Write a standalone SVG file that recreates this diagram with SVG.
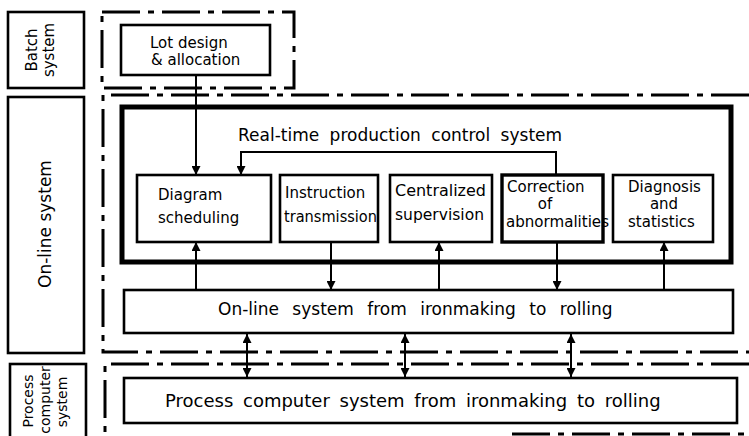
<svg xmlns="http://www.w3.org/2000/svg" width="749" height="436" viewBox="0 0 749 436">
  <defs>
    <marker id="arr" viewBox="0 0 10 10" refX="10" refY="5" markerWidth="9" markerHeight="9" markerUnits="userSpaceOnUse" orient="auto-start-reverse">
      <path d="M0,0 L10,5 L0,10 Z" fill="#000"/>
    </marker>
    <style>
      .box { fill: #fff; stroke: #000; stroke-width: 2.6; }
      .thick { fill: none; stroke: #000; stroke-width: 5; }
      .dd { fill: none; stroke: #000; stroke-width: 3; stroke-dasharray: 38 8 6 8; }
      .ln { fill: none; stroke: #000; stroke-width: 2; }
      text { font-family: "DejaVu Sans", "Liberation Sans", sans-serif; font-size: 15px; fill: #000; }
      .big { font-size: 17px; }
      .mid { text-anchor: middle; }
    </style>
  </defs>

  <rect width="749" height="436" fill="#fff"/>

  <!-- system regions (dash-dot outlines) -->
  <g id="regions">
    <rect class="dd" x="102" y="12" width="192" height="76"/>
    <path class="dd" d="M749,95 H103 V352 H749"/>
    <path class="dd" d="M749,364 H105 V436"/>
    <path class="dd" d="M512,434 H749"/>
  </g>

  <!-- side labels -->
  <g id="batch-label">
    <rect class="box" x="8" y="12" width="76" height="76"/>
    <text class="mid" transform="translate(37,50) rotate(-90)">Batch</text>
    <text class="mid" transform="translate(54,50) rotate(-90)">system</text>
  </g>
  <g id="online-label">
    <rect class="box" x="8" y="97" width="76" height="256"/>
    <text class="mid big" transform="translate(51,224) rotate(-90)">On-line system</text>
  </g>
  <g id="process-label">
    <rect class="box" x="10" y="364" width="76" height="80"/>
    <text class="mid" style="font-size:14px" transform="translate(33,401) rotate(-90)">Process</text>
    <text class="mid" style="font-size:14px" transform="translate(50,400) rotate(-90)">computer</text>
    <text class="mid" style="font-size:14px" transform="translate(67,402) rotate(-90)">system</text>
  </g>

  <!-- batch node -->
  <g id="lot-design">
    <rect class="box" x="121" y="25" width="149" height="50"/>
    <text x="150" y="48">Lot design</text>
    <text x="151" y="65">&amp; allocation</text>
  </g>

  <!-- real-time production control system frame -->
  <g id="realtime">
    <rect class="thick" x="122" y="107" width="609" height="155"/>
    <text class="big" x="238" y="141" style="word-spacing:5px">Real-time production control system</text>
  </g>

  <g id="diagram-scheduling">
    <rect class="box" x="137" y="175" width="134" height="67"/>
    <text x="158" y="200">Diagram</text>
    <text x="158" y="223">scheduling</text>
  </g>
  <g id="instruction-transmission">
    <rect class="box" x="280" y="175" width="98" height="67"/>
    <text x="285" y="198">Instruction</text>
    <text x="284" y="222" textLength="93" lengthAdjust="spacingAndGlyphs">transmission</text>
  </g>
  <g id="centralized-supervision">
    <rect class="box" x="390" y="175" width="102" height="67"/>
    <text x="395" y="196" textLength="91" lengthAdjust="spacingAndGlyphs">Centralized</text>
    <text x="395" y="220" textLength="89" lengthAdjust="spacingAndGlyphs">supervision</text>
  </g>
  <g id="correction">
    <rect class="box" x="502" y="175" width="101" height="67" style="stroke-width:3.4"/>
    <text x="507" y="192">Correction</text>
    <text class="mid" x="545" y="209">of</text>
    <text x="506" y="227" textLength="103" lengthAdjust="spacingAndGlyphs">abnormalities</text>
  </g>
  <g id="diagnosis">
    <rect class="box" x="613" y="175" width="100" height="67"/>
    <text x="628" y="192">Diagnosis</text>
    <text class="mid" x="664" y="209">and</text>
    <text x="628" y="227">statistics</text>
  </g>

  <g id="online-bar">
    <rect class="box" x="124" y="290" width="609" height="43"/>
    <text class="big" x="218" y="315" style="word-spacing:8px">On-line system from ironmaking to rolling</text>
  </g>

  <g id="process-bar">
    <rect class="box" x="124" y="378" width="613" height="45"/>
    <text x="165" y="407" style="font-size:18px;word-spacing:4px">Process computer system from ironmaking to rolling</text>
  </g>

  <!-- connectors -->
  <g id="connectors">
    <path class="ln" d="M196,75 V175" marker-end="url(#arr)"/>
    <path class="ln" d="M556,175 V152 H241 V175" marker-end="url(#arr)"/>
    <path class="ln" d="M196,290 V242" marker-end="url(#arr)"/>
    <path class="ln" d="M331,242 V290" marker-end="url(#arr)"/>
    <path class="ln" d="M439,290 V242" marker-end="url(#arr)"/>
    <path class="ln" d="M557,242 V290" marker-end="url(#arr)"/>
    <path class="ln" d="M664,290 V242" marker-end="url(#arr)"/>
    <path class="ln" d="M247,334 V377" marker-start="url(#arr)" marker-end="url(#arr)"/>
    <path class="ln" d="M405,334 V377" marker-start="url(#arr)" marker-end="url(#arr)"/>
    <path class="ln" d="M571,334 V377" marker-start="url(#arr)" marker-end="url(#arr)"/>
  </g>
</svg>
